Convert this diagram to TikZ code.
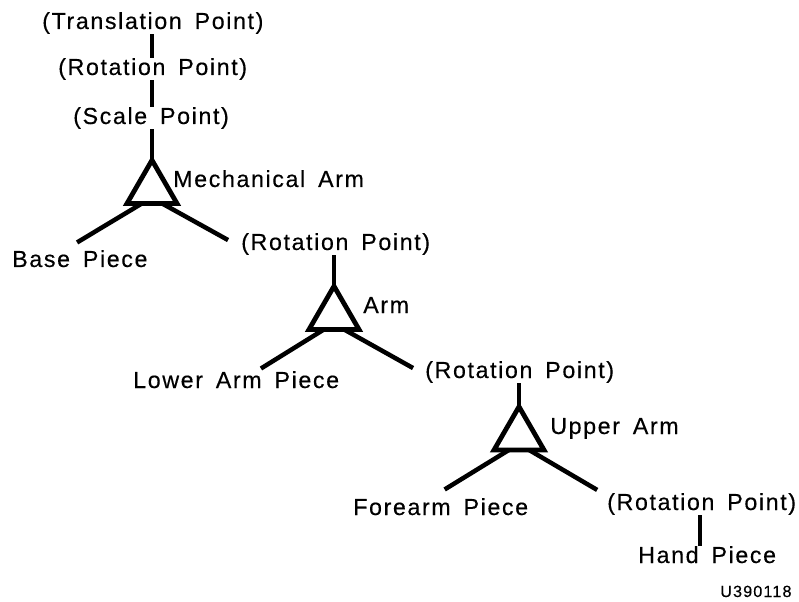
\documentclass[tikz,border=0pt]{standalone}
\usepackage{fontspec}
\setmainfont{Liberation Sans}[LetterSpace=7, WordSpace=1.6, FakeBold=0.35]
\usetikzlibrary{shapes.geometric,calc}

\begin{document}
\begin{tikzpicture}[
    x=0.025cm, y=-0.025cm,
    lbl/.style={anchor=base west, inner sep=0pt, font=\fontsize{16.5}{19}\selectfont},
    joint/.style={draw, regular polygon, regular polygon sides=3, minimum size=1.44cm,
        inner sep=0pt, outer sep=0pt, line width=3.4pt},
    stem/.style={line width=2.8pt},
    leg/.style={line width=3.2pt}
]
    \useasboundingbox (0,0) rectangle (799,602);

    % Mechanical arm (top level)
    \node[lbl] (trans) at (42,29) {(Translation Point)};
    \node[lbl] (rotA) at (58,75) {(Rotation Point)};
    \node[lbl] (scaleP) at (73,124) {(Scale Point)};
    \node[joint] (tri1) at (152,189) {};
    \node[lbl] (mech) at (173,187) {Mechanical Arm};
    \node[lbl] (basePc) at (12,267) {Base Piece};
    \node[lbl] (rotB) at (241,250) {(Rotation Point)};

    % Arm
    \node[joint] (tri2) at (334,315) {};
    \node[lbl] (armL) at (363,313) {Arm};
    \node[lbl] (lowerPc) at (133,388) {Lower Arm Piece};
    \node[lbl] (rotC) at (425,378) {(Rotation Point)};

    % Upper arm
    \node[joint] (tri3) at (519,435.5) {};
    \node[lbl] (upperL) at (550,434) {Upper Arm};
    \node[lbl] (forePc) at (353,515) {Forearm Piece};
    \node[lbl] (rotD) at (607,510) {(Rotation Point)};
    \node[lbl] (handPc) at (638,563) {Hand Piece};

    % Figure number
    \node[lbl, font=\fontsize{11.5}{14}\selectfont] (figno) at (720,597) {U390118};

    % Stems
    \draw[stem] (trans.south -| tri1.corner 1) -- (rotA.north -| tri1.corner 1);
    \draw[stem] (rotA.south -| tri1.corner 1) -- (scaleP.north -| tri1.corner 1);
    \draw[stem] (scaleP.south -| tri1.corner 1) -- (tri1.corner 1);
    \draw[stem] (rotB.south -| tri2.corner 1) -- (tri2.corner 1);
    \draw[stem] (rotC.south -| tri3.corner 1) -- (tri3.corner 1);
    \draw[stem] (rotD.south -| 700,0) -- (handPc.north -| 700,0);

    % Legs
    \draw[leg] ($(tri1.corner 2)!.3!(tri1.corner 3)$) -- ([xshift=-2pt,yshift=5.3pt]basePc.north);
    \draw[leg] ($(tri1.corner 2)!.7!(tri1.corner 3)$) -- ([xshift=-9.2pt,yshift=2.8pt]rotB.west);
    \draw[leg] ($(tri2.corner 2)!.3!(tri2.corner 3)$) -- ([xshift=17.6pt,yshift=1.7pt]lowerPc.north);
    \draw[leg] ($(tri2.corner 2)!.7!(tri2.corner 3)$) -- ([xshift=-8.5pt,yshift=2.8pt]rotC.west);
    \draw[leg] ($(tri3.corner 2)!.3!(tri3.corner 3)$) -- ([xshift=2.8pt,yshift=6pt]forePc.north);
    \draw[leg] ($(tri3.corner 2)!.7!(tri3.corner 3)$) -- ([xshift=-7pt,yshift=10pt]rotD.west);
\end{tikzpicture}
\end{document}
